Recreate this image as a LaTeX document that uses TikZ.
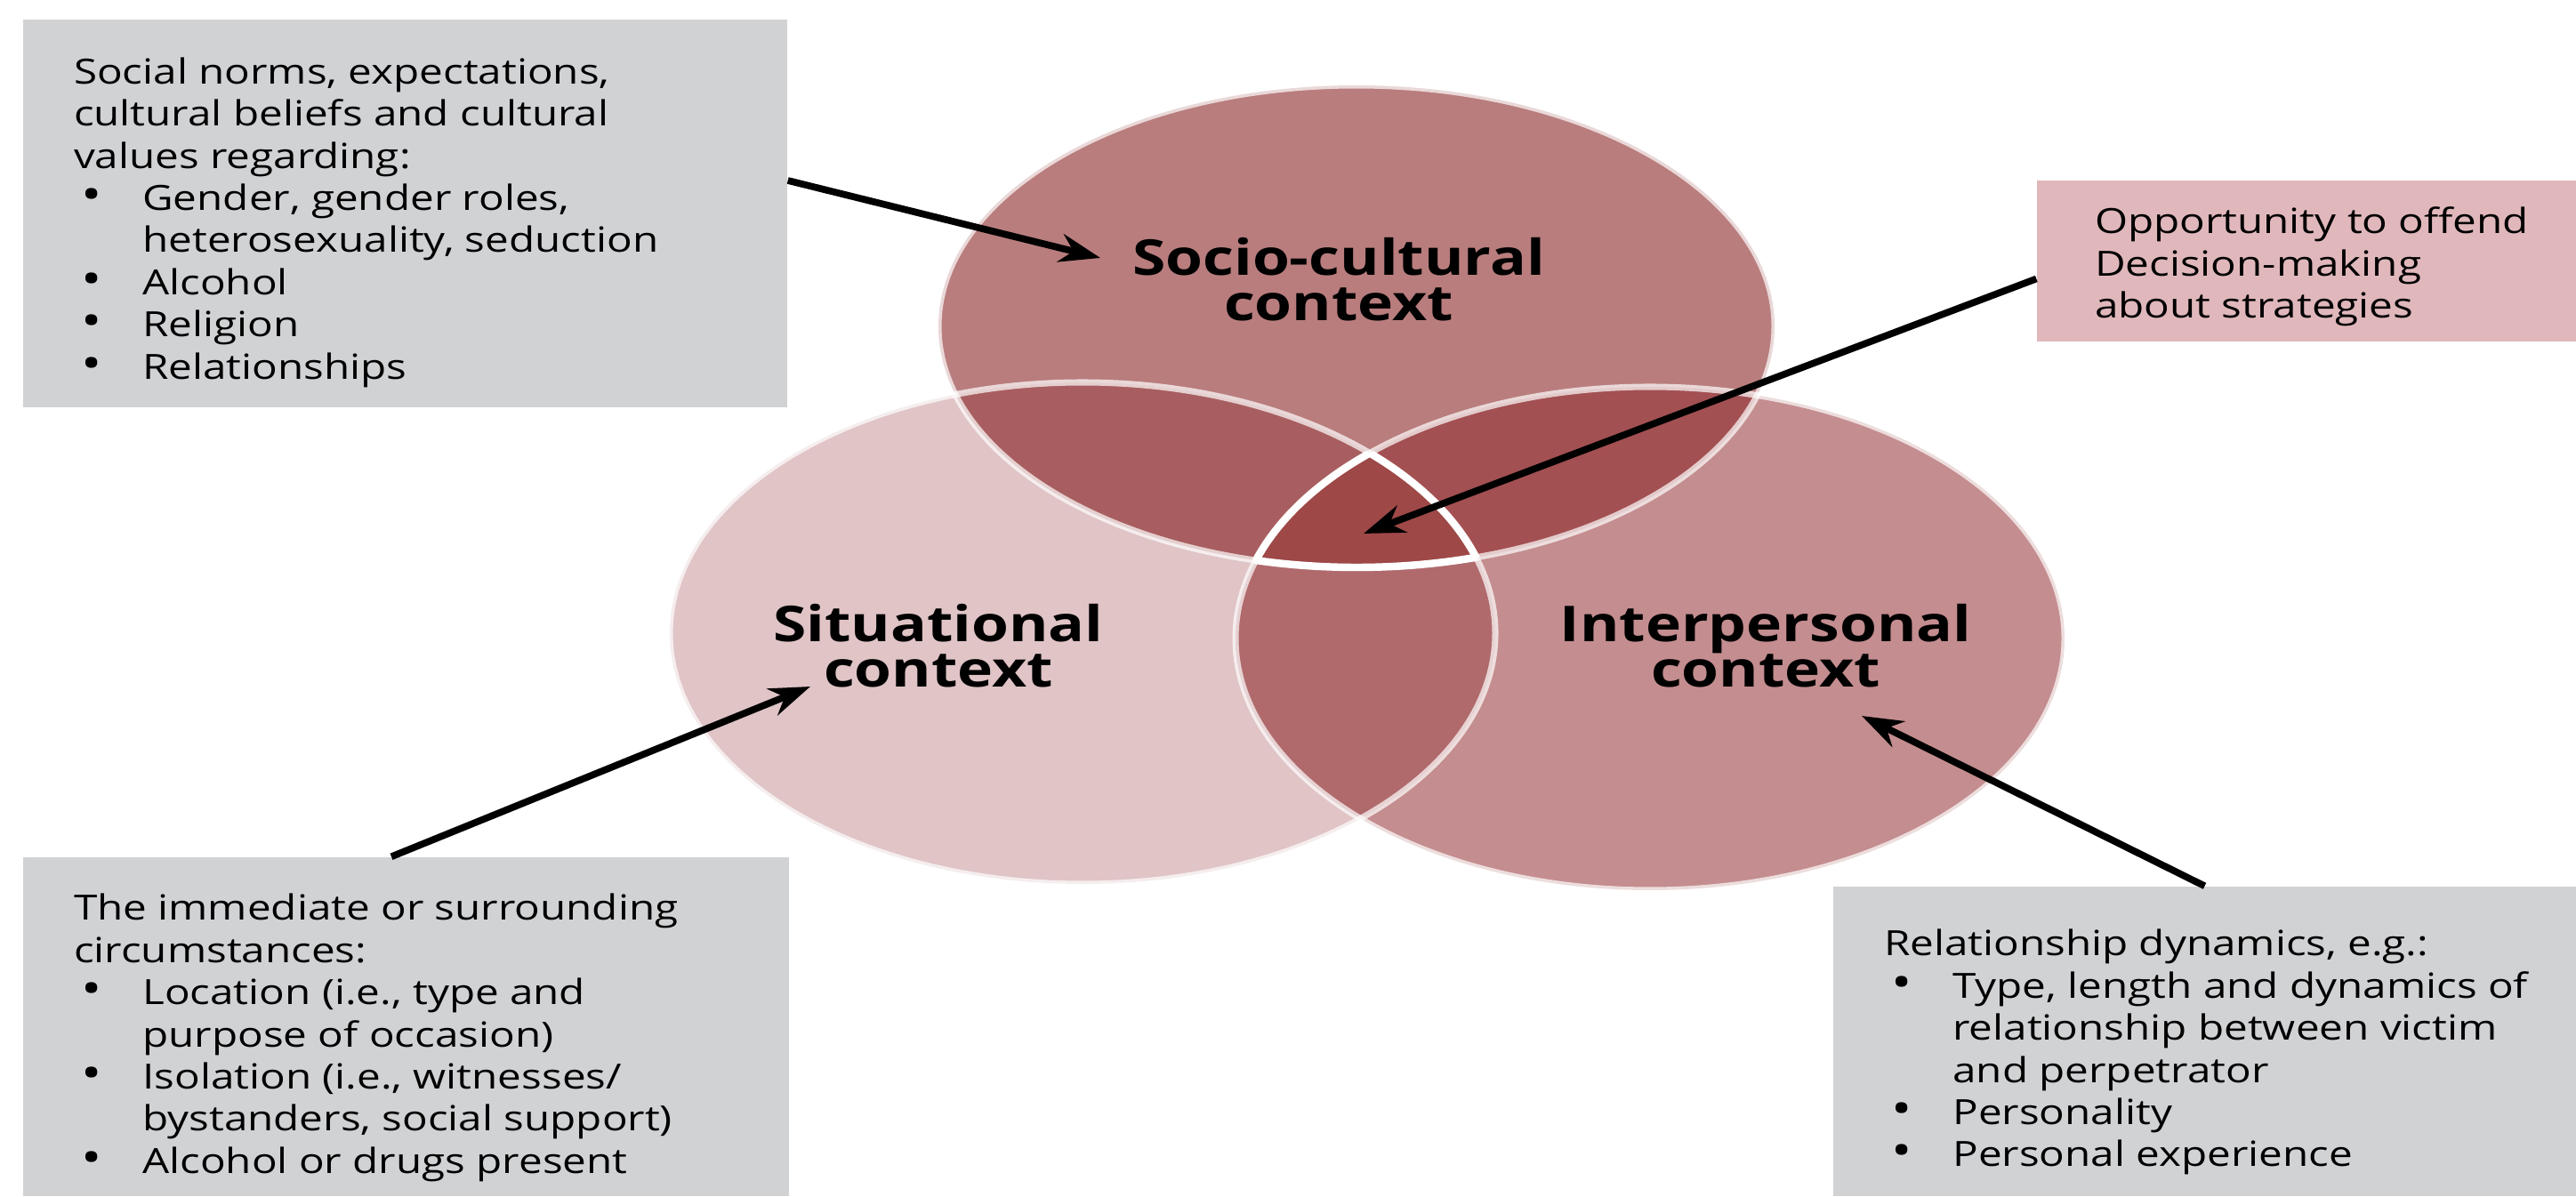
\documentclass[tikz,border=0pt]{standalone}
\usepackage{fontspec}
\setmainfont{Open Sans}[FakeStretch=1.22]
\usetikzlibrary{arrows.meta,positioning,calc}

\definecolor{socfill}{HTML}{B97D7D}
\definecolor{sitfill}{HTML}{E0C4C6}
\definecolor{intfill}{HTML}{C48D8F}
\definecolor{socsit}{HTML}{A85E60}
\definecolor{socint}{HTML}{A35052}
\definecolor{sitint}{HTML}{B06A6C}
\definecolor{allfill}{HTML}{9E4848}
\definecolor{boxgray}{HTML}{D1D2D4}
\definecolor{boxpink}{HTML}{E0B8BC}

\newcommand{\blt}{\makebox[22pt][l]{\hspace{2.5pt}\scalebox{1.3}{\textbullet}}}
\newcommand{\ind}{\hspace*{22pt}}
\newcommand{\socshape}{(15.25,9.78) ellipse [x radius=4.70, y radius=2.71]}
\newcommand{\sitshape}{(12.17,6.33) ellipse [x radius=4.64, y radius=2.82]}
\newcommand{\intshape}{(18.55,6.27) ellipse [x radius=4.66, y radius=2.83]}

\begin{document}
\begin{tikzpicture}[
    infobox/.style={rectangle,inner sep=0pt},
    boxtext/.style={inner sep=0pt,font=\fontsize{11.1}{13.5}\selectfont},
    ctxlabel/.style={align=center,font=\bfseries\fontsize{15.8}{14.5}\selectfont},
    rim/.style={draw=white,draw opacity=0.7,line width=2pt},
    bright rim/.style={draw=white,line width=2.4pt},
    pointer/.style={-{Stealth[length=4.6mm,width=3.2mm]},line width=2.2pt,black}]
    \useasboundingbox (0,0) rectangle (28.96,13.45);
    % the three contexts
    \fill[socfill] \socshape;
    \fill[sitfill] \sitshape;
    \fill[intfill] \intshape;
    \begin{scope}
        \clip \socshape;
        \fill[socsit] \sitshape;
        \fill[socint] \intshape;
    \end{scope}
    \begin{scope}
        \clip \sitshape;
        \fill[sitint] \intshape;
    \end{scope}
    \begin{scope}
        \clip \socshape;
        \clip \sitshape;
        \fill[allfill] \intshape;
    \end{scope}
    \draw[rim] \sitshape;
    \draw[rim] \intshape;
    \draw[rim] \socshape;
    % rim of the common part
    \begin{scope}
        \clip \sitshape;
        \clip \intshape;
        \draw[bright rim] \socshape;
    \end{scope}
    \begin{scope}
        \clip \socshape;
        \clip \sitshape;
        \draw[bright rim] \intshape;
    \end{scope}
    \begin{scope}
        \clip \socshape;
        \clip \intshape;
        \draw[bright rim] \sitshape;
    \end{scope}
    \node[ctxlabel](soc) at (15.05,10.31){Socio-cultural\\context};
    \node[ctxlabel](sit) at (10.55,6.19){Situational\\context};
    \node[ctxlabel](int) at (19.85,6.19){Interpersonal\\context};
    % text boxes
    \node[infobox,fill=boxgray,minimum width=8.59cm,minimum height=4.36cm](norms) at (4.555,11.05){};
    \node[infobox,fill=boxpink,minimum width=6.06cm,minimum height=1.81cm](opp) at (25.93,10.515){};
    \node[infobox,fill=boxgray,minimum width=8.61cm,minimum height=3.81cm](circ) at (4.565,1.905){};
    \node[infobox,fill=boxgray,minimum width=8.35cm,minimum height=3.48cm](rel) at (24.785,1.74){};
    \node[boxtext,below right=0.39cm and 0.57cm of norms.north west](normsText){\begin{tabular}{@{}l@{}}Social norms, expectations,\\cultural beliefs and cultural\\values regarding:\\\blt Gender, gender roles,\\\ind heterosexuality, seduction\\\blt Alcohol\\\blt Religion\\\blt Relationships\end{tabular}};
    \node[boxtext,below right=0.265cm and 0.65cm of opp.north west](oppText){\begin{tabular}{@{}l@{}}Opportunity to offend\\Decision-making\\about strategies\end{tabular}};
    \node[boxtext,below right=0.375cm and 0.57cm of circ.north west](circText){\begin{tabular}{@{}l@{}}The immediate or surrounding\\circumstances:\\\blt Location (i.e., type and\\\ind purpose of occasion)\\\blt Isolation (i.e., witnesses/\\\ind bystanders, social support)\\\blt Alcohol or drugs present\end{tabular}};
    \node[boxtext,below right=0.445cm and 0.57cm of rel.north west](relText){\begin{tabular}{@{}l@{}}Relationship dynamics, e.g.:\\\blt Type, length and dynamics of\\\ind relationship between victim\\\ind and perpetrator\\\blt Personality\\\blt Personal experience\end{tabular}};
    % arrow tips
    \coordinate (socTip) at (12.37,10.55);
    \coordinate (allTip) at (15.33,7.45);
    \coordinate (sitTip) at (9.11,5.73);
    \coordinate (intTip) at (20.93,5.40);
    \draw[pointer] ([yshift=3.7mm]norms.east) -- (socTip);
    \draw[pointer] ([yshift=-2mm]opp.west) -- (allTip);
    \draw[pointer] ([xshift=-1.65mm]circ.north) -- (sitTip);
    \draw[pointer] (rel.north) -- (intTip);
\end{tikzpicture}
\end{document}
